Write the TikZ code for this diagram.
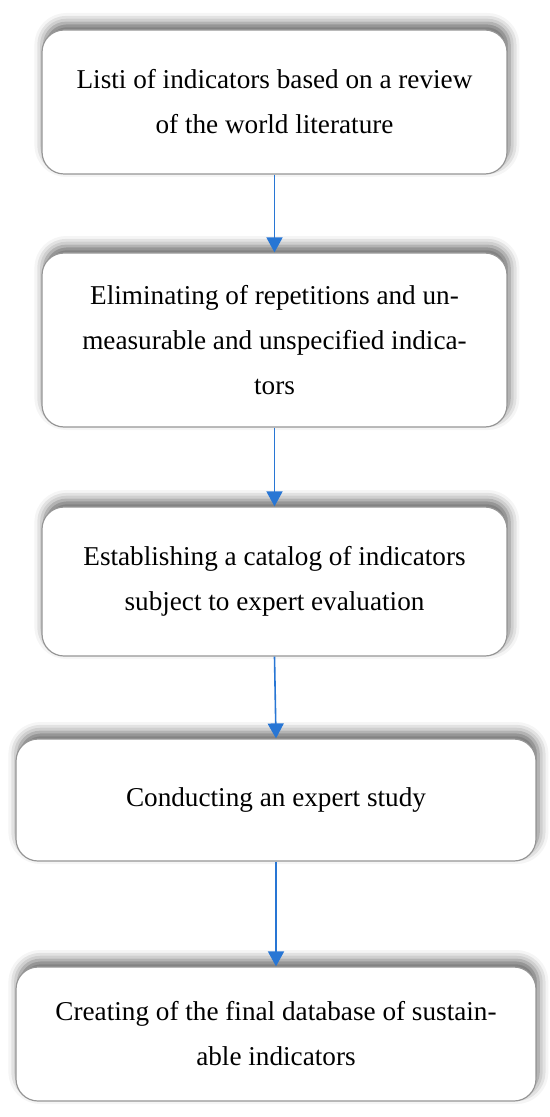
\documentclass[tikz,border=0pt]{standalone}
\usepackage{fontspec}
\setmainfont{Liberation Serif}
\usepackage{tikz}
\usetikzlibrary{arrows.meta, shadows.blur}
\usepackage{xcolor}
\definecolor{arrowblue}{RGB}{40, 118, 212}
\definecolor{boxgray}{RGB}{150, 150, 150}

\begin{document}
\begin{tikzpicture}[x=0.5pt, y=-0.5pt,
  stagebox/.style={draw=boxgray, line width=0.6pt, fill=white,
    rounded corners=11pt, align=center, inner sep=0pt,
    font=\fontsize{13.6}{22.5}\selectfont,
    blur shadow={shadow xshift=1.2pt, shadow yshift=3.5pt,
                 shadow blur radius=5pt, shadow opacity=60}},
  flowarrow/.style={-{Triangle[width=8pt,length=7.5pt]}, arrowblue,
    line width=0.8pt}]
  \useasboundingbox (0,0) rectangle (550,1117);
  %---- Stages of the procedure ----------------------------------------------
  \node[stagebox, minimum width=232.5pt, minimum height=72pt] (list)
    at (274.5,102)
    {Listi of indicators based on a review\\ of the world literature};
  \node[stagebox, minimum width=232.5pt, minimum height=87pt] (elim)
    at (274.5,340)
    {Eliminating of repetitions and un-\\ measurable and unspecified indica-\\ tors};
  \node[stagebox, minimum width=232.5pt, minimum height=74.5pt] (catalog)
    at (274.5,581.5)
    {Establishing a catalog of indicators\\ subject to expert evaluation};
  \node[stagebox, minimum width=260pt, minimum height=61pt] (study)
    at (276,800)
    {Conducting an expert study};
  \node[stagebox, minimum width=260pt, minimum height=67pt] (final)
    at (276,1034)
    {Creating of the final database of sustain-\\ able indicators};
  %---- Connectors -----------------------------------------------------------
  \foreach \a/\b in {list/elim, elim/catalog, catalog/study, study/final}
    \draw[flowarrow] (\a.south) -- (\b.north);
\end{tikzpicture}
\end{document}
